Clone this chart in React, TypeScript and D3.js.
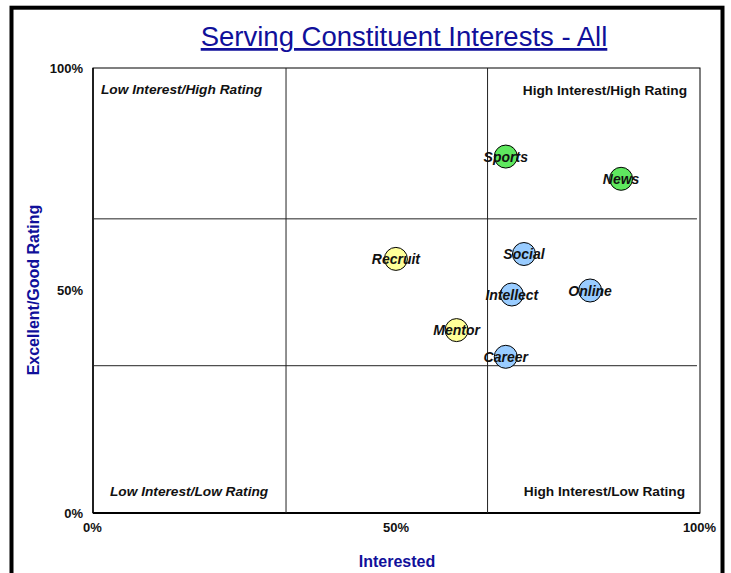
import React from "react";
import * as d3 from "d3";

const names = ["Sports", "News", "Social", "Recruit", "Intellect", "Online", "Mentor", "Career"];
const interested = [0.68, 0.87, 0.71, 0.499, 0.69, 0.819, 0.599, 0.68];
const rating = [0.801, 0.751, 0.582, 0.571, 0.491, 0.50, 0.411, 0.351];
const groups = ["green", "green", "blue", "yellow", "blue", "blue", "yellow", "blue"];
const xDividers = [0.318, 0.65];
const yDividers = [0.661, 0.331];
const xTicks = [0, 0.5, 1];
const yTicks = [0, 0.5, 1];
const quadrantLabels = [
  { text: "Low Interest/High Rating", pos: "tl" },
  { text: "High Interest/High Rating", pos: "tr" },
  { text: "Low Interest/Low Rating", pos: "bl" },
  { text: "High Interest/Low Rating", pos: "br" },
];

const colors: Record<string, string> = {
  green: "#5fe85f",
  blue: "#99ccff",
  yellow: "#ffff99",
};

export default function App() {
  const W = 731, H = 573;
  const left = 93, right = 700, top = 68, bottom = 513;
  const x = d3.scaleLinear().domain([0, 1]).range([left, right]);
  const y = d3.scaleLinear().domain([0, 1]).range([bottom, top]);
  const fmt = d3.format(".0%");
  const font = "Arial, 'Liberation Sans', sans-serif";
  const navy = "#10109a";

  const qPos: Record<string, { x: number; y: number; anchor: string; italic: boolean }> = {
    tl: { x: 101, y: 94, anchor: "start", italic: true },
    tr: { x: 687, y: 95, anchor: "end", italic: false },
    bl: { x: 110, y: 496, anchor: "start", italic: true },
    br: { x: 685, y: 496, anchor: "end", italic: false },
  };

  return (
    <svg width={W} height={H} style={{ position: "absolute", left: 0, top: 0 }} fontFamily={font}>
      <rect x={0} y={0} width={W} height={H} fill="#fff" />
      <rect x={11.5} y={7.7} width={711} height={600} fill="none" stroke="#000" strokeWidth={4} />
      <text x={404} y={46} textAnchor="middle" fontSize={27.5} fill={navy} textDecoration="underline">
        Serving Constituent Interests - All
      </text>
      {/* plot border */}
      <rect x={left} y={top} width={right - left} height={bottom - top} fill="none" stroke="#000" strokeWidth={1} />
      <line x1={left} x2={right} y1={bottom} y2={bottom} stroke="#000" strokeWidth={2} />
      <line x1={left} x2={left} y1={top} y2={bottom} stroke="#000" strokeWidth={1.5} />
      {xDividers.map((d, i) => (
        <line key={"xd" + i} x1={x(d)} x2={x(d)} y1={top} y2={bottom} stroke="#222" strokeWidth={1} />
      ))}
      {yDividers.map((d, i) => (
        <line key={"yd" + i} x1={left} x2={x(0.995)} y1={y(d)} y2={y(d)} stroke="#222" strokeWidth={1} />
      ))}
      {quadrantLabels.map((q) => {
        const p = qPos[q.pos];
        return (
          <text key={q.pos} x={p.x} y={p.y} textAnchor={p.anchor} fontSize={13.7} fontWeight="bold"
            fontStyle={p.italic ? "italic" : "normal"} fill="#111">
            {q.text}
          </text>
        );
      })}
      {yTicks.map((t) => (
        <text key={"yt" + t} x={83} y={y(t) + 4.5} textAnchor="end" fontSize={13} fontWeight="bold" fill="#111">
          {fmt(t)}
        </text>
      ))}
      {xTicks.map((t) => (
        <text key={"xt" + t} x={x(t) - 0.5} y={532} textAnchor="middle" fontSize={13} fontWeight="bold" fill="#111">
          {fmt(t)}
        </text>
      ))}
      <text x={397} y={567} textAnchor="middle" fontSize={16} fontWeight="bold" fill={navy}>
        Interested
      </text>
      <text transform={`translate(39,290) rotate(-90)`} textAnchor="middle" fontSize={16} fontWeight="bold" fill={navy}>
        Excellent/Good Rating
      </text>
      {names.map((n, i) => (
        <circle key={"c" + n} cx={x(interested[i])} cy={y(rating[i])} r={11.5}
          fill={colors[groups[i]]} stroke="#000" strokeWidth={1} />
      ))}
      {names.map((n, i) => (
        <text key={"l" + n} x={x(interested[i])} y={y(rating[i]) + 5} textAnchor="middle" fontSize={14}
          fontWeight="bold" fontStyle="italic" fill="#111">
          {n}
        </text>
      ))}
    </svg>
  );
}
